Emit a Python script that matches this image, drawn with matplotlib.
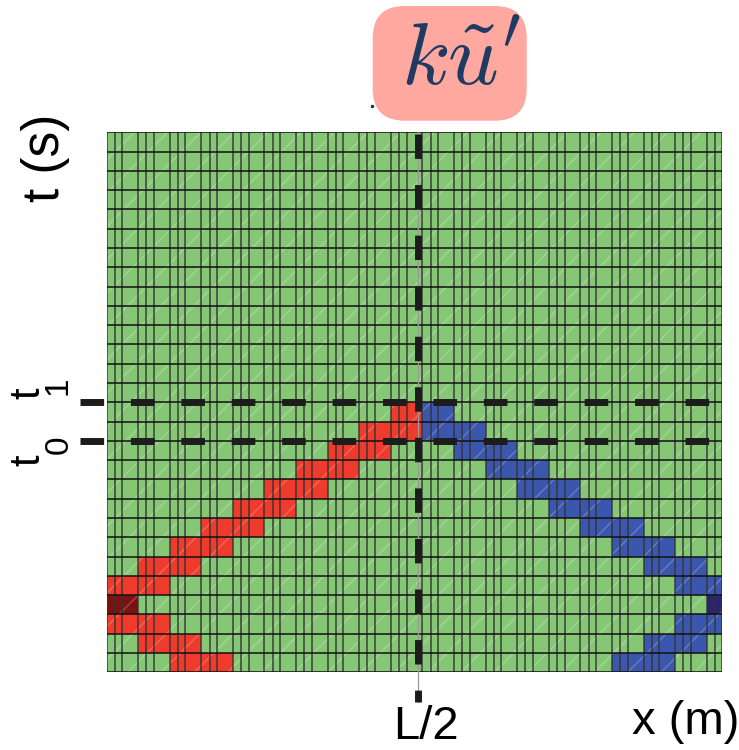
import numpy as np
import matplotlib
matplotlib.use("Agg")
import matplotlib.pyplot as plt
from matplotlib.patches import FancyBboxPatch, Rectangle
from matplotlib.colors import ListedColormap
from matplotlib.transforms import IdentityTransform

# ---------------- data ----------------
n_rows = 28
n_full_cols = 19
last_col_width = 0.47
col_sub_offsets = [0.0, 0.26, 0.5]

# columns of coloured cells for each row (row 0 = bottom)
red_cols = [[2, 3], [1, 2], [0, 1], [], [0, 1], [1, 2], [2, 3], [3, 4], [4, 5],
            [5, 6], [6, 7], [7, 8], [8, 9], [9]]
blue_cols = [[16, 17], [17, 18], [18, 19], [], [18, 19], [17, 18], [16, 17], [15, 16],
             [14, 15], [13, 14], [12, 13], [11, 12], [10, 11], [10]]
dark_red_cells = [(3, 0)]
dark_blue_cells = [(3, 19)]

t0_row = 12
t1_row = 14
x_half = 9.87
x_label = "x (m)"
t_label = "t (s)"
half_label = "L/2"
title_text = r"$k\tilde{u}'$"

# ---------------- style ----------------
plt.rcParams["font.family"] = ["Liberation Sans", "DejaVu Sans"]
plt.rcParams["mathtext.fontset"] = "cm"
plt.rcParams["lines.scale_dashes"] = False
plt.rcParams["hatch.color"] = (1, 1, 1, 0.2)
plt.rcParams["hatch.linewidth"] = 1.2

W, H = 739, 750
fig = plt.figure(figsize=(W / 100, H / 100), dpi=100)

def fx(px):
    return px / W

def fy(py):
    return 1 - py / H

left_px, right_px, top_px, bot_px = 106.5, 721.7, 132.3, 672.3
ax = fig.add_axes([fx(left_px), fy(bot_px), (right_px - left_px) / W, (bot_px - top_px) / H])

x_max = n_full_cols + last_col_width
x_edges = np.append(np.arange(n_full_cols + 1), x_max)
y_edges = np.arange(n_rows + 1)

grid = np.zeros((n_rows, n_full_cols + 1))
for r, cols in enumerate(red_cols):
    for c in cols:
        grid[r, c] = 1
for r, cols in enumerate(blue_cols):
    for c in cols:
        grid[r, c] = 3
for r, c in dark_red_cells:
    grid[r, c] = 2
for r, c in dark_blue_cells:
    grid[r, c] = 4

cmap = ListedColormap(["#86c776", "#ee3b2b", "#7a1212", "#3a57ad", "#2b2470"])
ax.pcolormesh(x_edges, y_edges, grid, cmap=cmap, vmin=-0.5, vmax=4.5, shading="flat")

# subtle diagonal texture
ax.add_patch(Rectangle((0, 0), x_max, n_rows, facecolor="none", hatch="/", zorder=2))

# vertical mesh lines
vx = []
for c in range(n_full_cols + 1):
    for o in col_sub_offsets:
        if c + o < x_max - 0.05:
            vx.append(c + o)
vx.append(x_max)
ax.vlines(vx, 0, n_rows, colors="#333333", alpha=0.72, linewidth=1.4, zorder=3)
# horizontal mesh lines
ax.hlines(y_edges, 0, x_max, colors="#111111", linewidth=1.1, zorder=3)

# thin centre line and dashed markers
ax.plot([x_half, x_half], [n_rows, -1.54], color="#999999", lw=0.9, clip_on=False, zorder=4)
ax.plot([x_half, x_half], [n_rows - 0.08, -1.54], color="#1c1c1c", lw=5.0, dashes=(17.6, 18.8),
        solid_capstyle="butt", clip_on=False, zorder=5)
for yr in (t0_row, t1_row):
    ax.plot([-0.845, x_max], [yr, yr], color="#1c1c1c", lw=5.0, dashes=(17.0, 19.3),
            clip_on=False, zorder=5)

ax.set_xlim(0, x_max)
ax.set_ylim(0, n_rows)
ax.axis("off")

# ---------------- texts ----------------
fig.text(fx(46), fy(158), t_label, rotation=90, ha="center", va="center", fontsize=37)
fig.text(fx(28), fy(393), "t", rotation=90, ha="center", va="center", fontsize=30)
fig.text(fx(58), fy(386), "1", rotation=90, ha="center", va="center", fontsize=24)
fig.text(fx(28), fy(460), "t", rotation=90, ha="center", va="center", fontsize=30)
fig.text(fx(59), fy(445), "0", rotation=90, ha="center", va="center", fontsize=24)
fig.text(fx(426), fy(749), half_label, ha="center", va="bottom", fontsize=34)
fig.text(fx(739), fy(734), x_label, ha="right", va="baseline", fontsize=34)

# title box
box = FancyBboxPatch((372.7, H - 120.7), 154, 114.7,
                     boxstyle="round,pad=0,rounding_size=32",
                     facecolor="#ffa8a0", edgecolor="none", transform=IdentityTransform())
fig.add_artist(box)
fig.text(fx(461), fy(62), title_text, ha="center", va="center", fontsize=64, color="#1f3b62")
fig.add_artist(plt.Line2D([fx(372)], [fy(106)], marker="o", markersize=1.5, color="#333333",
                          transform=fig.transFigure))

fig.savefig("out.png", dpi=100)
